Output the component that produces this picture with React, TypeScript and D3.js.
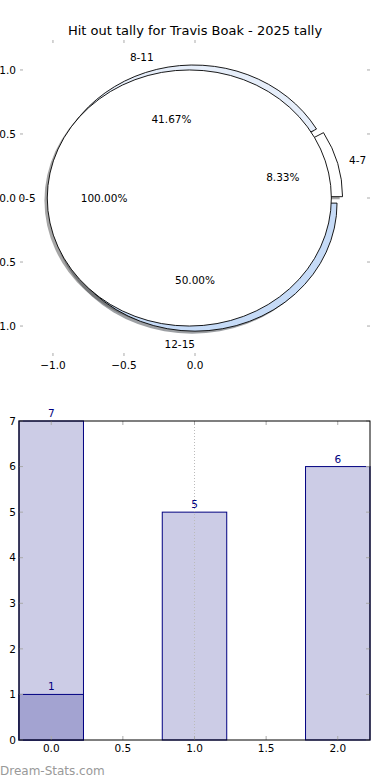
import React from "react";
import * as d3 from "d3";

// chart values
const titleText = "Hit out tally for Travis Boak - 2025 tally";
const ringLabels = ["4-7", "8-11", "12-15"];
const ringValues = [1, 5, 6];
const ringColors = ["#ffffff", "#e6eefa", "#c6dbf7"];
const coreLabels = ["0-5"];
const coreValues = [7];
const coreColors = ["#ffffff"];
const pieXTicks = [-1, -0.5, 0];
const pieYTicks = [1, 0.5, 0, -0.5, -1];

const barPositions = [0, 1, 2];
const barValues = [7, 5, 6];
const subPositions = [0];
const subValues = [1];
const barXTicks = [0, 0.5, 1, 1.5, 2];
const barYTicks = [0, 1, 2, 3, 4, 5, 6, 7];

const FONT = "DejaVu Sans, sans-serif";
const EXPLODE = 0.04;
const SHADOW = 0.02;

const shade = (c: string) => {
  const r = d3.rgb(c);
  return d3.rgb(r.r * 0.3, r.g * 0.3, r.b * 0.3).toString();
};

const App = () => {
  // pie axes (unequal aspect, like the original)
  const px = d3.scaleLinear().domain([-1.232, 1.232]).range([20, 370]);
  const py = d3.scaleLinear().domain([-1.234, 1.234]).range([356, 40]);
  const ux = px(1) - px(0);
  const uy = py(0) - py(1);

  const pieGen = d3
    .pie<number>()
    .value((d) => d)
    .sort(null)
    .startAngle(Math.PI / 2)
    .endAngle(Math.PI / 2 - 2 * Math.PI);
  const arc = d3.arc<d3.PieArcDatum<number>>().innerRadius(0).outerRadius(1);

  const build = (values: number[], labels: string[], colors: string[]) => {
    const total = d3.sum(values);
    return pieGen(values).map((a, i) => {
      const tm = Math.PI / 2 - (a.startAngle + a.endAngle) / 2;
      const cx = EXPLODE * Math.cos(tm);
      const cy = EXPLODE * Math.sin(tm);
      return {
        a,
        cx,
        cy,
        nudge: -2.5 * Math.cos(tm),
        label: labels[i],
        color: colors[i],
        pct: ((values[i] / total) * 100).toFixed(2) + "%",
        lx: cx + 1.1 * Math.cos(tm),
        ly: cy + 1.1 * Math.sin(tm),
        tx: cx + 0.6 * Math.cos(tm),
        ty: cy + 0.6 * Math.sin(tm),
      };
    });
  };
  const ring = build(ringValues, ringLabels, ringColors);
  const core = build(coreValues, coreLabels, coreColors);
  const all = [...ring, ...core];

  // bar axes
  const bx = d3.scaleLinear().domain([-0.225, 2.225]).range([19, 370]);
  const by = d3.scaleLinear().domain([0, 7]).range([740, 421]);
  const bw = 0.45;

  const tickColor = "#aaaaaa";

  return (
    <svg
      width={390}
      height={780}
      style={{ position: "absolute", left: 0, top: 0, background: "#fff" }}
      fontFamily={FONT}
    >
      <rect width={390} height={780} fill="#fff" />
      <text x={195} y={34.5} textAnchor="middle" fontSize={13} fill="#000">
        {titleText}
      </text>

      {/* pie shadows */}
      {all.map((s, i) => (
        <path
          key={"sh" + i}
          d={arc(s.a) || ""}
          transform={`translate(${px(s.cx - SHADOW)},${py(s.cy - SHADOW)}) scale(${ux},${uy})`}
          fill={shade(s.color)}
          fillOpacity={0.5}
        />
      ))}
      {/* wedges */}
      {all.map((s, i) => (
        <path
          key={"w" + i}
          d={arc(s.a) || ""}
          transform={`translate(${px(s.cx)},${py(s.cy)}) scale(${ux},${uy})`}
          fill={s.color}
          stroke="#000"
          strokeWidth={0.9}
          strokeLinejoin="round"
          vectorEffect="non-scaling-stroke"
        />
      ))}
      {all.map((s, i) => (
        <g key={"t" + i} fontSize={10.5} fill="#000">
          <text
            x={px(s.lx) + s.nudge}
            y={py(s.ly)}
            dy="0.36em"
            textAnchor={s.lx > 0 ? "start" : "end"}
          >
            {s.label}
          </text>
          <text x={px(s.tx)} y={py(s.ty)} dy="0.36em" textAnchor="middle">
            {s.pct}
          </text>
        </g>
      ))}

      {/* pie axis ticks (no spines) */}
      {pieXTicks.map((t) => (
        <g key={"px" + t}>
          <line x1={px(t)} x2={px(t)} y1={40} y2={43} stroke={tickColor} />
          <line x1={px(t)} x2={px(t)} y1={353} y2={356} stroke={tickColor} />
          <text x={px(t)} y={369} textAnchor="middle" fontSize={10.5}>
            {d3.format(".1f")(t).replace("-", "\u2212")}
          </text>
        </g>
      ))}
      {pieYTicks.map((t) => (
        <g key={"py" + t}>
          <line x1={20} x2={23} y1={py(t)} y2={py(t)} stroke={tickColor} />
          <line x1={367} x2={370} y1={py(t)} y2={py(t)} stroke={tickColor} />
          <text x={16} y={py(t)} dy="0.36em" textAnchor="end" fontSize={10.5}>
            {d3.format(".1f")(t).replace("-", "\u2212")}
          </text>
        </g>
      ))}

      {/* bars */}
      {barPositions.map((p, i) => (
        <rect
          key={"b" + i}
          x={bx(p - bw / 2)}
          y={by(barValues[i])}
          width={bx(p + bw / 2) - bx(p - bw / 2)}
          height={by(0) - by(barValues[i])}
          fill="#ccccE6"
          stroke="#000080"
          strokeWidth={1}
        />
      ))}
      {subPositions.map((p, i) => (
        <rect
          key={"s" + i}
          x={bx(p - bw / 2)}
          y={by(subValues[i])}
          width={bx(p + bw / 2) - bx(p - bw / 2)}
          height={by(0) - by(subValues[i])}
          fill="#a3a3d1"
          stroke="#000080"
          strokeWidth={1}
        />
      ))}
      <line
        x1={bx(1)}
        x2={bx(1)}
        y1={by(7)}
        y2={by(0)}
        stroke="#bbbbbb"
        strokeDasharray="1,2"
      />
      {barPositions.map((p, i) => (
        <text key={"bl" + i} x={bx(p)} y={by(barValues[i]) - 4} textAnchor="middle" fontSize={10.5} fill="#000080">
          {barValues[i]}
        </text>
      ))}
      {subPositions.map((p, i) => (
        <text key={"sl" + i} x={bx(p)} y={by(subValues[i]) - 4} textAnchor="middle" fontSize={10.5} fill="#000080">
          {subValues[i]}
        </text>
      ))}

      {/* bar axis frame and ticks */}
      {barXTicks.map((t) => (
        <g key={"bx" + t}>
          <line x1={bx(t)} x2={bx(t)} y1={421} y2={425} stroke={tickColor} />
          <line x1={bx(t)} x2={bx(t)} y1={736} y2={740} stroke={tickColor} />
          <text x={bx(t)} y={752} textAnchor="middle" fontSize={10.5}>
            {d3.format(".1f")(t)}
          </text>
        </g>
      ))}
      {barYTicks.map((t) => (
        <g key={"by" + t}>
          <line x1={19} x2={23} y1={by(t)} y2={by(t)} stroke={tickColor} />
          <line x1={366} x2={370} y1={by(t)} y2={by(t)} stroke={tickColor} />
          <text x={16} y={by(t)} dy="0.36em" textAnchor="end" fontSize={10.5}>
            {t}
          </text>
        </g>
      ))}
      <rect x={19} y={421} width={351} height={319} fill="none" stroke="#000" strokeWidth={1} />

      <text x={0} y={775} fontSize={12} fill="#999999">
        Dream-Stats.com
      </text>
    </svg>
  );
};

export default App;
